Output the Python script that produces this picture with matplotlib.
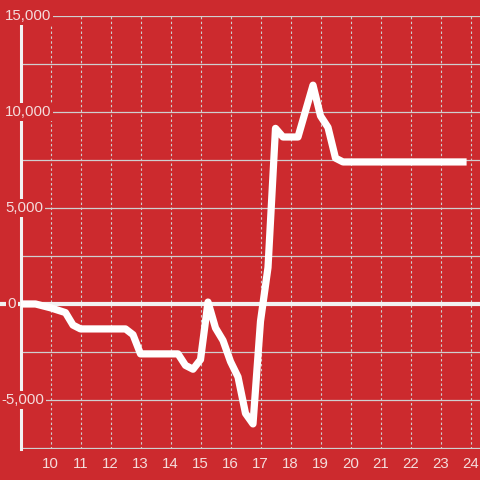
import matplotlib
matplotlib.use("Agg")
import matplotlib.pyplot as plt

# ---- data ----
hours = [9.0, 9.5, 10.0, 10.5, 10.75, 11.0, 12.5, 12.75, 13.0, 14.25, 14.5, 14.75,
         15.0, 15.25, 15.5, 15.75, 16.0, 16.25, 16.5, 16.75, 17.0, 17.25, 17.5,
         17.75, 18.25, 18.75, 19.0, 19.25, 19.5, 19.75, 23.75]
values = [0, 0, -200, -450, -1100, -1300, -1300, -1600, -2600, -2600, -3200, -3400,
          -2900, 100, -1250, -1900, -3000, -3800, -5700, -6250, -900, 1900, 9150,
          8700, 8700, 11400, 9800, 9200, 7600, 7400, 7400]
x_ticks = [10, 11, 12, 13, 14, 15, 16, 17, 18, 19, 20, 21, 22, 23, 24]
x_tick_labels = ["10", "11", "12", "13", "14", "15", "16", "17", "18", "19",
                 "20", "21", "22", "23", "24"]
y_grid = [-7500, -5000, -2500, 0, 2500, 5000, 7500, 10000, 12500, 15000]
y_label_values = [15000, 10000, 5000, 0, -5000]
y_label_texts = ["15,000", "10,000", "5,000", "0", "-5,000"]

# ---- style ----
BG = "#cc2a2e"
TXT = "#f4dcdc"
GRID = "#cfcfcf"
plt.rcParams["font.family"] = ["Liberation Sans", "DejaVu Sans"]
plt.rcParams["axes.unicode_minus"] = False

W = H = 480
fig = plt.figure(figsize=(4.8, 4.8), dpi=100, facecolor=BG)
left_px, right_px, top_px, bottom_px = 20.5, 480, 15.5, 448.5
ax = fig.add_axes([left_px / W, (H - bottom_px) / H,
                   (right_px - left_px) / W, (bottom_px - top_px) / H])
ax.set_facecolor(BG)
ax.set_xlim(9.0, 9.0 + (right_px - left_px) / 30.0)
ax.set_ylim(-7530, 15030)

for s in ["top", "right", "bottom"]:
    ax.spines[s].set_visible(False)
ax.spines["left"].set_color("#f2f2f2")
ax.spines["left"].set_linewidth(2.2)
ax.spines["left"].set_zorder(4)

# horizontal grid
for v in y_grid:
    if v == 0:
        continue
    ax.axhline(v, color=GRID, lw=0.9, zorder=1)
# zero line extends left of the spine
ax.plot([-0.05, 1], [0, 0], transform=ax.get_yaxis_transform(), color="#f2f2f2",
        lw=3, clip_on=False, zorder=2, solid_capstyle="butt")

# vertical dotted grid
for t in x_ticks:
    ax.axvline(t, color=GRID, lw=0.8, linestyle=(0, (2.2, 2.2)), zorder=1)

# data line
ax.plot(hours, values, color="white", lw=5.2, zorder=5,
        solid_capstyle="projecting", solid_joinstyle="round")

# x ticks
ax.set_xticks(x_ticks)
ax.set_xticklabels(x_tick_labels)
ax.tick_params(axis="x", length=0, pad=6, labelsize=10.8, colors=TXT)
ax.set_yticks([])

# y labels with background boxes covering grid/spine
for v, s in zip(y_label_values, y_label_texts):
    if s.startswith("-"):
        xpx = 1.3
    elif s == "0":
        xpx = 7.6
    else:
        xpx = 5.0
    ax.text((xpx - left_px) / (right_px - left_px), v, s,
            transform=ax.get_yaxis_transform(), ha="left", va="center",
            fontsize=10.8, color=TXT, clip_on=False, zorder=10,
            bbox=dict(facecolor=BG, edgecolor="none", pad=1.2))

fig.savefig("out.png", dpi=100, facecolor=BG)
